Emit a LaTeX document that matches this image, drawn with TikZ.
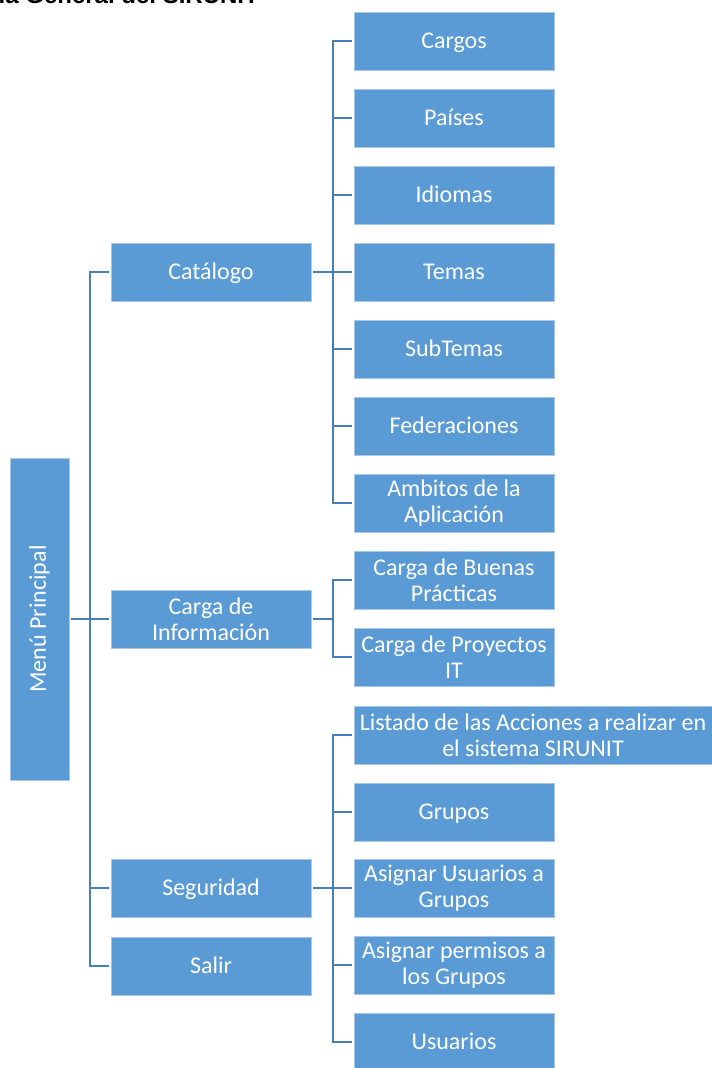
\documentclass[tikz,border=0pt]{standalone}
\usepackage{fontspec}
\setmainfont{Carlito}
\newfontfamily\titlefont{Liberation Sans}
\definecolor{boxblue}{HTML}{5B9BD5}
\definecolor{boxedge}{HTML}{A8C8E8}
\definecolor{linkblue}{HTML}{4A7EBB}
\tikzset{
  box/.style={rectangle, fill=boxblue, draw=boxedge, line width=0.8pt, text=white,
    minimum width=200pt, minimum height=58pt, inner sep=1pt, align=center,
    font=\fontsize{24}{26.5}\selectfont},
  onebox/.style={box, text height=17pt, text depth=3pt},
  conn/.style={draw=linkblue, line width=2pt}
}
\begin{document}
\begin{tikzpicture}[x=1pt,y=-1pt]
\useasboundingbox (0,0) rectangle (712,1068);
\clip (0,0) rectangle (712,1068);
% title (cut off at top, as in the reference)
\node[anchor=base west, inner sep=0pt, font=\titlefont\bfseries\fontsize{24}{28}\selectfont, text=black] (title) at (-1.5,4) {la General del SIRUNIT};
% root
\node[box, minimum width=59pt, minimum height=322pt] (menu) at (39.5,619) {};
\node[rotate=90, text=white, font=\fontsize{24}{26.5}\selectfont, inner sep=0pt] (menutxt) at (menu.center) {Menú Principal};
% level 1
\node[onebox] (catalogo) at (211,272) {Catálogo};
\node[box] (carga) at (211,619) {Carga de\\Información};
\node[onebox] (seguridad) at (211,888) {Seguridad};
\node[onebox] (salir) at (211,966) {Salir};
% level 2 - catalogo
\node[onebox] (cargos) at (454,41) {Cargos};
\node[onebox] (paises) at (454,118) {Países};
\node[onebox] (idiomas) at (454,195) {Idiomas};
\node[onebox] (temas) at (454,272) {Temas};
\node[onebox] (subtemas) at (454,349) {SubTemas};
\node[onebox] (federaciones) at (454,426) {Federaciones};
\node[box] (ambitos) at (454,503) {Ambitos de la\\Aplicación};
% level 2 - carga
\node[box] (buenas) at (454,580) {Carga de Buenas\\Prácticas};
\node[box] (proyectos) at (454,657) {Carga de Proyectos\\IT};
% level 2 - seguridad
\node[box, minimum width=358pt] (listado) at (533,735) {Listado de las Acciones a realizar en\\el sistema SIRUNIT};
\node[onebox] (grupos) at (454,812) {Grupos};
\node[box] (asigusu) at (454,888) {Asignar Usuarios a\\Grupos};
\node[box] (asigperm) at (454,965) {Asignar permisos a\\los Grupos};
\node[onebox] (usuarios) at (454,1042) {Usuarios};
% connectors level 1
\draw[conn] ([xshift=-2pt]catalogo.west) -- ++(-19,0) |- ([xshift=-2pt]salir.west);
\draw[conn] ([xshift=2pt]menu.east) -- ([xshift=-2pt]carga.west);
\draw[conn] ([xshift=-2pt]seguridad.west) -- ++(-19,0);
% connectors catalogo
\draw[conn] ([xshift=2pt]catalogo.east) -- ++(20,0);
\draw[conn] ([xshift=-2pt]cargos.west) -- ++(-19,0) |- ([xshift=-2pt]ambitos.west);
\foreach \n in {paises,idiomas,temas,subtemas,federaciones}
  \draw[conn] ([xshift=-2pt]\n.west) -- ++(-19,0);
% connectors carga
\draw[conn] ([xshift=2pt]carga.east) -- ++(20,0);
\draw[conn] ([xshift=-2pt]buenas.west) -- ++(-19,0) |- ([xshift=-2pt]proyectos.west);
% connectors seguridad
\draw[conn] ([xshift=2pt]seguridad.east) -- ++(20,0);
\draw[conn] ([xshift=-2pt]listado.west) -- ++(-19,0) |- ([xshift=-2pt]usuarios.west);
\foreach \n in {grupos,asigusu,asigperm}
  \draw[conn] ([xshift=-2pt]\n.west) -- ++(-19,0);
\end{tikzpicture}
\end{document}
